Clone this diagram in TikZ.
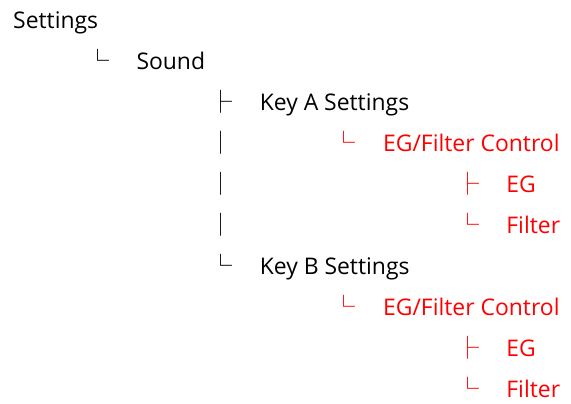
\documentclass[tikz,border=0pt]{standalone}
\usepackage{fontspec}
\setmainfont{Open Sans}
\newfontfamily\cjk{Noto Sans CJK JP}
\usetikzlibrary{calc}
\definecolor{menured}{HTML}{FF0000}

\begin{document}
\begin{tikzpicture}[x=1bp, y=-1bp,
                    entry/.style={anchor=base west,
                                  inner sep=0pt,
                                  font=\fontsize{23}{23}\selectfont},
                    branch/.style={anchor=base,
                                   inner sep=0pt,
                                   font=\cjk\fontsize{23}{23}\selectfont},
                    sub/.style={color=menured}]
	\useasboundingbox (0,0) rectangle (571,403);
	\coordinate (h) at (123.3,0);
	\coordinate (v) at (0,41);
	\coordinate (g) at (-38.5,0);
	\node [entry] (Settings) at (13,28) {Settings};
	\node [entry] (Sound) at ($(Settings.base west)+(h)+(v)$) {Sound};
	\node [entry] (KeyA) at ($(Sound.base west)+(h)+(v)$) {Key A Settings};
	\node [entry, sub] (CtrlA) at ($(KeyA.base west)+(h)+(v)$) {EG/Filter Control};
	\node [entry, sub] (EGA) at ($(CtrlA.base west)+(h)+(v)$) {EG};
	\node [entry, sub] (FilterA) at ($(EGA.base west)+(v)$) {Filter};
	\node [entry] (KeyB) at ($(KeyA.base west)+4*(v)$) {Key B Settings};
	\node [entry, sub] (CtrlB) at ($(KeyB.base west)+(h)+(v)$) {EG/Filter Control};
	\node [entry, sub] (EGB) at ($(CtrlB.base west)+(h)+(v)$) {EG};
	\node [entry, sub] (FilterB) at ($(EGB.base west)+(v)$) {Filter};

	% tree marks
	\node [branch] (SoundMark) at ($(Sound.base west)+(g)$) {└};
	\node [branch] (KeyAMark) at ($(KeyA.base west)+(g)$) {├};
	\node [branch] (BarA) at ($(KeyAMark.base)+(v)$) {│};
	\node [branch] (BarB) at ($(BarA.base)+(v)$) {│};
	\node [branch] (BarC) at ($(BarB.base)+(v)$) {│};
	\node [branch] (KeyBMark) at ($(KeyB.base west)+(g)$) {└};
	\node [branch, sub] (CtrlAMark) at ($(CtrlA.base west)+(g)$) {└};
	\node [branch, sub] (EGAMark) at ($(EGA.base west)+(g)$) {├};
	\node [branch, sub] (FilterAMark) at ($(FilterA.base west)+(g)$) {└};
	\node [branch, sub] (CtrlBMark) at ($(CtrlB.base west)+(g)$) {└};
	\node [branch, sub] (EGBMark) at ($(EGB.base west)+(g)$) {├};
	\node [branch, sub] (FilterBMark) at ($(FilterB.base west)+(g)$) {└};
\end{tikzpicture}
\end{document}
